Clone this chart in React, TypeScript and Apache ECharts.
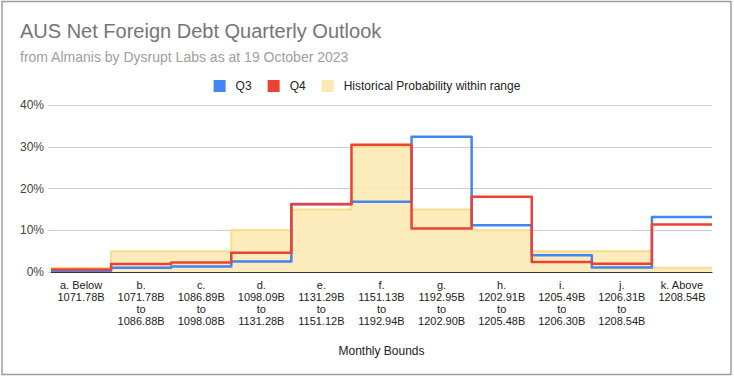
import React, { useEffect, useRef } from "react";
import * as echarts from "echarts";

const categories = [
  "a. Below\n1071.78B",
  "b.\n1071.78B\nto\n1086.88B",
  "c.\n1086.89B\nto\n1098.08B",
  "d.\n1098.09B\nto\n1131.28B",
  "e.\n1131.29B\nto\n1151.12B",
  "f.\n1151.13B\nto\n1192.94B",
  "g.\n1192.95B\nto\n1202.90B",
  "h.\n1202.91B\nto\n1205.48B",
  "i.\n1205.49B\nto\n1206.30B",
  "j.\n1206.31B\nto\n1208.54B",
  "k. Above\n1208.54B",
];

const q3 = [0.3, 1.0, 1.3, 2.5, 16.3, 16.8, 32.4, 11.2, 4.0, 1.1, 13.2];
const q4 = [0.6, 1.9, 2.3, 4.6, 16.2, 30.5, 10.4, 18.0, 2.4, 2.0, 11.4];
const historical = [1, 5, 5, 10, 15, 30, 15, 10, 5, 5, 1];

const yTicks = [0, 10, 20, 30, 40];

const FONT = "'Liberation Sans', Arial, sans-serif";

function toSteps(values: number[]): [number, number][] {
  const pts: [number, number][] = values.map((v, i) => [i, v] as [number, number]);
  pts.push([values.length, values[values.length - 1]]);
  return pts;
}

export default function App() {
  const ref = useRef<HTMLDivElement>(null);
  useEffect(() => {
    if (!ref.current) return;
    const chart = echarts.init(ref.current, null, { renderer: "svg" });
    chart.setOption({
      animation: false,
      backgroundColor: "#ffffff",
      textStyle: { fontFamily: FONT },
      title: {
        text: "AUS Net Foreign Debt Quarterly Outlook",
        subtext: "from Almanis by Dysrupt Labs as at 19 October 2023",
        left: 15,
        top: 16,
        itemGap: 9,
        textStyle: { fontFamily: FONT, fontSize: 20, fontWeight: "normal", color: "#757575" },
        subtextStyle: { fontFamily: FONT, fontSize: 14, color: "#9e9e9e" },
      },
      legend: {
        data: ["Q3", "Q4", "Historical Probability within range"],
        top: 75,
        left: "center",
        icon: "rect",
        itemWidth: 12,
        itemHeight: 12,
        itemGap: 16,
        textStyle: { fontFamily: FONT, fontSize: 12, color: "#222", padding: [0, 0, 0, 5] },
      },
      grid: { left: 51, right: 22, top: 105, bottom: 106 },
      xAxis: [
        {
          type: "value",
          min: 0,
          max: categories.length,
          show: false,
        },
        {
          type: "category",
          data: categories,
          position: "bottom",
          boundaryGap: true,
          axisLine: { show: true, lineStyle: { color: "#333", width: 1 } },
          axisTick: { show: false },
          axisLabel: {
            interval: 0,
            margin: 7,
            fontFamily: FONT,
            fontSize: 11,
            lineHeight: 12,
            color: "#222",
          },
          name: "Monthly Bounds",
          nameLocation: "middle",
          nameGap: 73,
          nameTextStyle: { fontFamily: FONT, fontSize: 12, color: "#222" },
        },
      ],
      yAxis: {
        type: "value",
        min: yTicks[0],
        max: yTicks[yTicks.length - 1],
        interval: 10,
        axisLine: { show: false },
        axisTick: { show: true, length: 3, lineStyle: { color: "#ccc" } },
        axisLabel: {
          formatter: "{value}%",
          margin: 7,
          fontFamily: FONT,
          fontSize: 12,
          color: "#444",
        },
        splitLine: { lineStyle: { color: "#cccccc", width: 1 } },
      },
      series: [
        {
          name: "Historical Probability within range",
          type: "line",
          xAxisIndex: 0,
          step: "end",
          data: toSteps(historical),
          symbol: "none",
          z: 1,
          color: "#fce8b2",
          lineStyle: { color: "#f8dc8c", width: 2, join: "round" },
          areaStyle: { color: "#fce8b2", opacity: 0.88 },
        },
        {
          name: "Q3",
          type: "line",
          xAxisIndex: 0,
          step: "end",
          data: toSteps(q3),
          symbol: "none",
          z: 3,
          color: "#4285f4",
          lineStyle: { color: "#4285f4", width: 2.5, join: "round" },
        },
        {
          name: "Q4",
          type: "line",
          xAxisIndex: 0,
          step: "end",
          data: toSteps(q4),
          symbol: "none",
          z: 4,
          color: "#ea4335",
          lineStyle: { color: "#ea4335", width: 2.5, join: "round" },
        },
      ],
      graphic: [
        {
          type: "rect",
          shape: { x: 2, y: 1.5, width: 729, height: 373 },
          style: { fill: "none", stroke: "#9e9e9e", lineWidth: 1.5 },
          silent: true,
          z: 100,
        },
      ],
    });
    return () => chart.dispose();
  }, []);
  return (
    <div
      ref={ref}
      style={{ position: "fixed", left: 0, top: 0, width: 734, height: 378 }}
    />
  );
}
